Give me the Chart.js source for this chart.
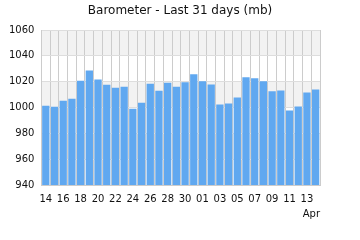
<!DOCTYPE html>
<html>
<head>
<meta charset="utf-8">
<script src="https://cdn.jsdelivr.net/npm/chart.js@4"></script>
<style>
  html, body { margin: 0; padding: 0; background: #fff; }
  #wrap { width: 360px; height: 240px; }
</style>
</head>
<body>
<div id="wrap"><canvas id="baro" width="360" height="240"></canvas></div>
<script>
/* ── Data: 14 Mar .. 14 Apr ───────────────────────── */
const days = ['14','15','16','17','18','19','20','21','22','23','24','25','26','27','28','29','30','31',
              '01','02','03','04','05','06','07','08','09','10','11','12','13','14'];
const pressure = [1001.3, 1000.5, 1005.2, 1006.8, 1020.8, 1028.6, 1021.6, 1017.7, 1015.3, 1016.1,
                  999.0, 1003.6, 1018.4, 1013.0, 1019.2, 1016.1, 1019.5, 1025.7, 1020.3, 1017.9,
                  1002.3, 1003.1, 1007.8, 1023.4, 1022.6, 1020.3, 1012.5, 1013.2, 997.7, 1000.8,
                  1011.7, 1014.0];
const yMin = 940, yMax = 1060, yStep = 20;
const titleText = 'Barometer - Last 31 days (mb)';

/* ── Alternating horizontal bands behind grid + bars ── */
const bands = {
  id: 'bands',
  beforeDraw(chart) {
    const { ctx, chartArea: a, scales: { y } } = chart;
    ctx.save();
    ctx.fillStyle = '#f2f2f2';
    for (let v = yMax; v > yMin; v -= yStep * 2) {
      const top = y.getPixelForValue(v), bot = y.getPixelForValue(v - yStep);
      ctx.fillRect(a.left, top, a.right - a.left, bot - top);
    }
    ctx.restore();
  }
};

/* ── Title centred on the whole canvas ─────────────── */
const canvasTitle = {
  id: 'canvasTitle',
  afterDraw(chart) {
    const ctx = chart.ctx;
    ctx.save();
    ctx.font = '12px "DejaVu Sans"';
    ctx.fillStyle = '#111';
    ctx.textAlign = 'center';
    ctx.textBaseline = 'middle';
    ctx.fillText(titleText, chart.width / 2, 11);
    ctx.restore();
  }
};

Chart.defaults.font.family = 'DejaVu Sans';
Chart.defaults.color = '#111';

new Chart(document.getElementById('baro'), {
  type: 'bar',
  data: {
    labels: days,
    datasets: [{
      data: pressure,
      backgroundColor: '#60a8f0',
      borderWidth: 0,
      categoryPercentage: 1,
      barPercentage: 0.84
    }]
  },
  options: {
    responsive: false,
    animation: false,
    layout: { padding: { left: 2, right: 40, top: 30, bottom: 20 } },
    plugins: {
      legend: { display: false },
      tooltip: { enabled: false },
      title: { display: false }
    },
    scales: {
      x: {
        grid: { color: '#cccccc', offset: true, drawTicks: false },
        border: { color: '#cccccc' },
        ticks: {
          autoSkip: false, maxRotation: 0, padding: 8,
          font: { size: 10 },
          callback: (v, i) => i % 2 === 0 && i < days.length - 1 ? days[i] : ''
        },
        title: { display: true, text: 'Apr', align: 'end', font: { size: 10 }, padding: { top: -5, bottom: 0 } }
      },
      y: {
        min: yMin, max: yMax,
        grid: { color: '#dddddd', drawTicks: false },
        border: { color: '#cccccc' },
        ticks: { stepSize: yStep, padding: 7, font: { size: 10 }, callback: v => String(v) }
      }
    }
  },
  plugins: [bands, canvasTitle]
});
</script>
</body>
</html>
